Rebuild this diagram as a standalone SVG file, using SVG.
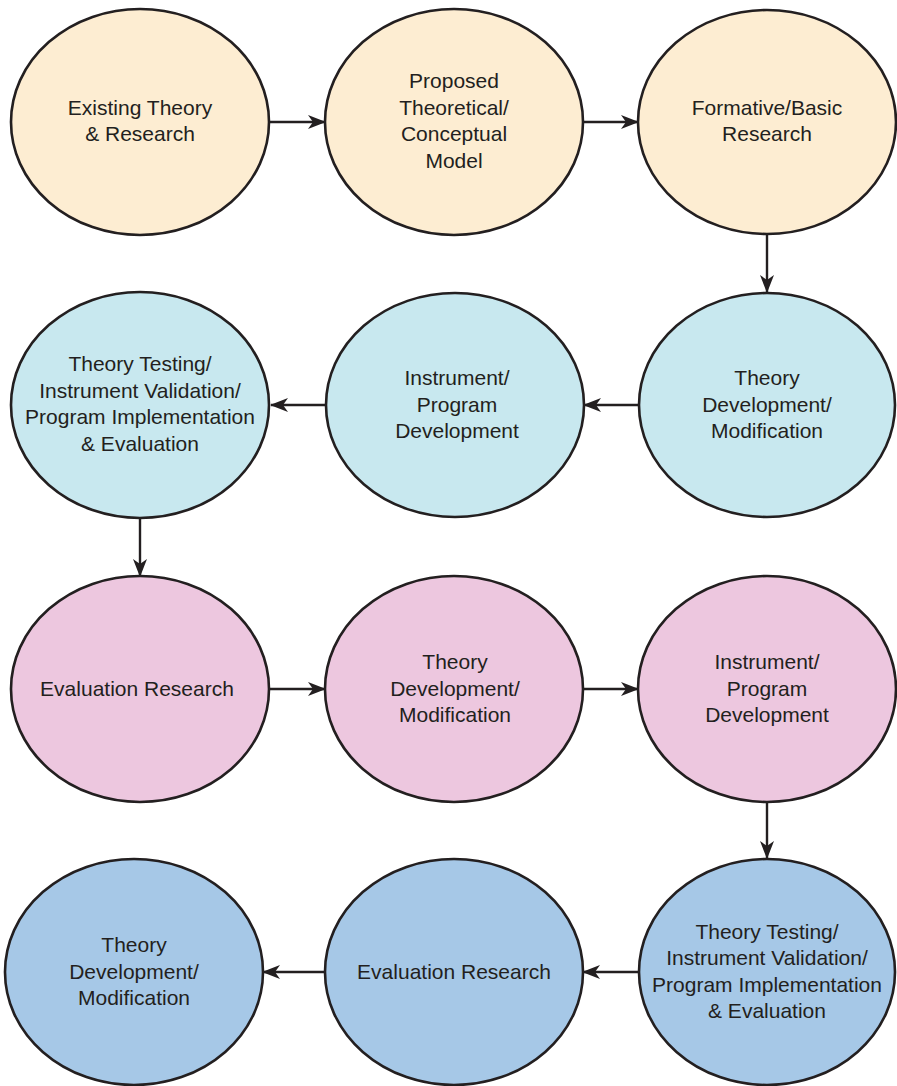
<svg xmlns="http://www.w3.org/2000/svg" width="897" height="1086" viewBox="0 0 897 1086">
<style>
.n{stroke:#231f20;stroke-width:2.6}
.r1{fill:#fdedd2}.r2{fill:#c8e8ef}.r3{fill:#edc7df}.r4{fill:#a6c8e7}
text{font-family:"Liberation Sans",Arial,sans-serif;font-size:21px;fill:#231f20;text-anchor:middle}
.c{stroke:#231f20;stroke-width:2.4;fill:none;marker-end:url(#ah)}
</style>
<defs>
<marker id="ah" markerUnits="userSpaceOnUse" markerWidth="18" markerHeight="16" viewBox="0 0 18 16" refX="17" refY="8" orient="auto">
<path d="M0,1 L18,8 L0,15 L5,8 z" fill="#231f20"/>
</marker>
</defs>
<rect width="897" height="1086" fill="#fff"/>
<g id="connectors">
<path class="c" d="M269,122 H325"/>
<path class="c" d="M582,122 H638"/>
<path class="c" d="M767,233 V292"/>
<path class="c" d="M639,405 H584"/>
<path class="c" d="M326,405 H271"/>
<path class="c" d="M140,518 V576"/>
<path class="c" d="M269,689 H325"/>
<path class="c" d="M582,689 H638"/>
<path class="c" d="M767,802 V858"/>
<path class="c" d="M639,972 H583"/>
<path class="c" d="M326,972 H263"/>
</g>
<g id="n1"><ellipse class="n r1" cx="140" cy="122" rx="129" ry="113"/>
<text><tspan x="140" y="115">Existing Theory</tspan><tspan x="140" y="141">&amp; Research</tspan></text></g>
<g id="n2"><ellipse class="n r1" cx="454" cy="122" rx="129" ry="113"/>
<text><tspan x="454" y="88">Proposed</tspan><tspan x="454" y="115">Theoretical/</tspan><tspan x="454" y="141">Conceptual</tspan><tspan x="454" y="168">Model</tspan></text></g>
<g id="n3"><ellipse class="n r1" cx="767" cy="122" rx="129" ry="112"/>
<text><tspan x="767" y="115">Formative/Basic</tspan><tspan x="767" y="141">Research</tspan></text></g>
<g id="n4"><ellipse class="n r2" cx="767" cy="405" rx="128" ry="112"/>
<text><tspan x="767" y="385">Theory</tspan><tspan x="767" y="412">Development/</tspan><tspan x="767" y="438">Modification</tspan></text></g>
<g id="n5"><ellipse class="n r2" cx="455" cy="405" rx="129" ry="112"/>
<text><tspan x="457" y="385">Instrument/</tspan><tspan x="457" y="412">Program</tspan><tspan x="457" y="438">Development</tspan></text></g>
<g id="n6"><ellipse class="n r2" cx="140" cy="405" rx="129" ry="113"/>
<text><tspan x="140" y="371">Theory Testing/</tspan><tspan x="140" y="398">Instrument Validation/</tspan><tspan x="140" y="424">Program Implementation</tspan><tspan x="140" y="451">&amp; Evaluation</tspan></text></g>
<g id="n7"><ellipse class="n r3" cx="140" cy="689" rx="129" ry="113"/>
<text><tspan x="137" y="696">Evaluation Research</tspan></text></g>
<g id="n8"><ellipse class="n r3" cx="454" cy="689" rx="129" ry="113"/>
<text><tspan x="455" y="669">Theory</tspan><tspan x="455" y="696">Development/</tspan><tspan x="455" y="722">Modification</tspan></text></g>
<g id="n9"><ellipse class="n r3" cx="767" cy="689" rx="129" ry="113"/>
<text><tspan x="767" y="669">Instrument/</tspan><tspan x="767" y="696">Program</tspan><tspan x="767" y="722">Development</tspan></text></g>
<g id="n10"><ellipse class="n r4" cx="767" cy="972" rx="128" ry="113"/>
<text><tspan x="767" y="939">Theory Testing/</tspan><tspan x="767" y="965">Instrument Validation/</tspan><tspan x="767" y="992">Program Implementation</tspan><tspan x="767" y="1018">&amp; Evaluation</tspan></text></g>
<g id="n11"><ellipse class="n r4" cx="454" cy="972" rx="129" ry="113"/>
<text><tspan x="454" y="979">Evaluation Research</tspan></text></g>
<g id="n12"><ellipse class="n r4" cx="134" cy="972" rx="129" ry="113"/>
<text><tspan x="134" y="952">Theory</tspan><tspan x="134" y="979">Development/</tspan><tspan x="134" y="1005">Modification</tspan></text></g>
</svg>
